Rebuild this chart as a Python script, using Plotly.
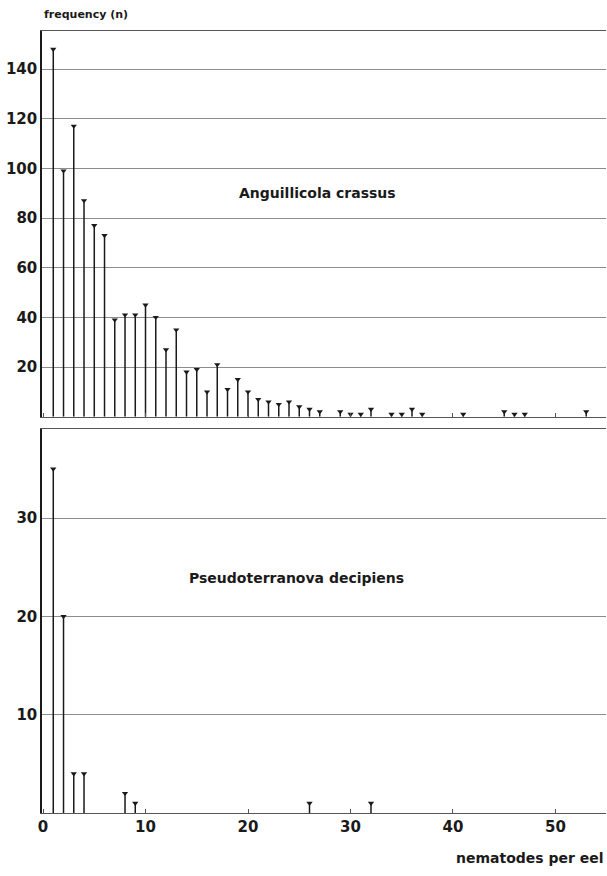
import plotly.graph_objects as go

# Anguillicola crassus: nematodes per eel vs number of eels
ac_x = [1, 2, 3, 4, 5, 6, 7, 8, 9, 10, 11, 12, 13, 14, 15, 16, 17, 18, 19, 20,
        21, 22, 23, 24, 25, 26, 27, 29, 30, 31, 32, 34, 35, 36, 37, 41, 45, 46, 47, 53]
ac_n = [148, 99, 117, 87, 77, 73, 39, 41, 41, 45, 40, 27, 35, 18, 19, 10, 21, 11, 15, 10,
        7, 6, 5, 6, 4, 3, 2, 2, 1, 1, 3, 1, 1, 3, 1, 1, 2, 1, 1, 2]

# Pseudoterranova decipiens
pd_x = [1, 2, 3, 4, 8, 9, 26, 32]
pd_n = [35, 20, 4, 4, 2, 1, 1, 1]

top_ticks = [20, 40, 60, 80, 100, 120, 140]
bot_ticks = [10, 20, 30]
x_ticks = [0, 10, 20, 30, 40, 50]

FONT = "DejaVu Sans"
INK = "#1a1a1a"


def stems(x, y, xa, ya):
    return go.Scatter(
        x=x, y=y, xaxis=xa, yaxis=ya, mode="markers",
        marker=dict(symbol="triangle-down", size=5.5, color=INK),
        error_y=dict(type="data", symmetric=False, array=[0] * len(y),
                     arrayminus=y, width=0, thickness=1.5, color=INK),
        showlegend=False, hoverinfo="x+y",
    )


fig = go.Figure()
fig.add_trace(stems(ac_x, ac_n, "x", "y"))
fig.add_trace(stems(pd_x, pd_n, "x2", "y2"))

xr = [-0.1, 54.93]
common_x = dict(range=xr, showgrid=False, zeroline=False, showline=True,
                linecolor="#555", linewidth=1.2, mirror=True,
                ticks="inside", ticklen=4, tickcolor="#555",
                tickvals=x_ticks)
common_y = dict(showgrid=True, gridcolor="#8c8c8c", gridwidth=1, zeroline=False,
                showline=True, linecolor=INK, linewidth=1.5, ticks="",
                tickfont=dict(family=FONT, size=15, color=INK, weight="bold"))

fig.update_layout(
    width=607, height=876,
    margin=dict(l=42, r=1, t=31, b=63),
    paper_bgcolor="white", plot_bgcolor="white",
    xaxis=dict(**common_x, anchor="y", showticklabels=False),
    yaxis=dict(**common_y, domain=[0.5068, 1.0], range=[0, 155.3],
               tickvals=top_ticks, anchor="x"),
    xaxis2=dict(**common_x, anchor="y2", showticklabels=True,
                tickfont=dict(family=FONT, size=15, color=INK, weight="bold")),
    yaxis2=dict(**common_y, domain=[0.0, 0.491], range=[0, 39.06],
                tickvals=bot_ticks, anchor="x2"),
    annotations=[
        dict(text="Anguillicola crassus", x=26.8, y=90, xref="x", yref="y",
             showarrow=False, font=dict(family=FONT, size=14, color=INK, weight="bold")),
        dict(text="Pseudoterranova decipiens", x=24.7, y=23.9, xref="x2", yref="y2",
             showarrow=False, font=dict(family=FONT, size=14, color=INK, weight="bold")),
        dict(text="frequency (n)", x=0, y=1.0205, xref="paper", yref="paper",
             xanchor="left", yanchor="middle", showarrow=False,
             font=dict(family=FONT, size=11, color=INK, weight="bold")),
        dict(text="nematodes per eel", x=1, y=-0.0575, xref="paper", yref="paper",
             xanchor="right", yanchor="middle", showarrow=False,
             font=dict(family=FONT, size=14, color=INK, weight="bold")),
    ],
)

fig.write_html("out.html")
